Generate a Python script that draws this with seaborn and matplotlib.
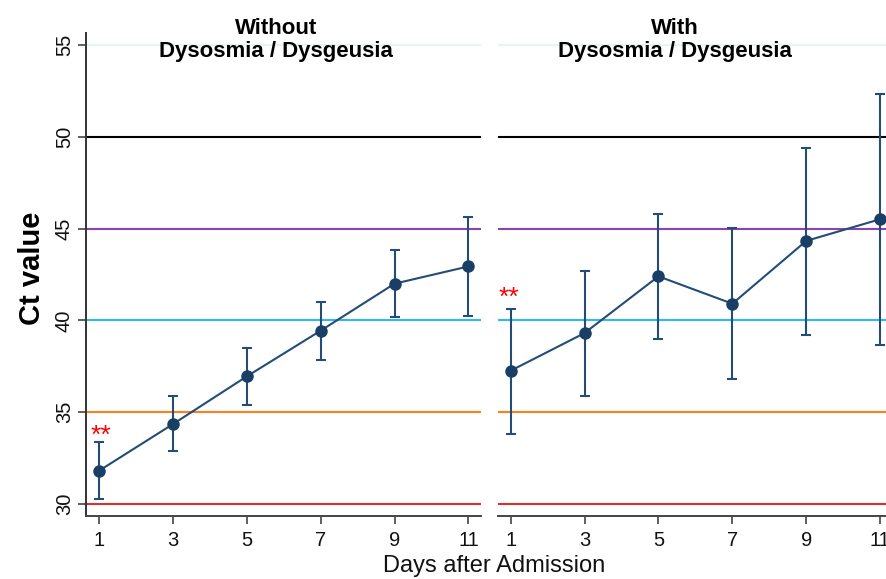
import numpy as np
import pandas as pd
import matplotlib
matplotlib.use("Agg")
import matplotlib.pyplot as plt
import seaborn as sns

# ---- data ----
days = [1, 3, 5, 7, 9, 11]
without_mean = [31.81, 34.35, 36.95, 39.44, 42.00, 42.94]
without_lo = [30.27, 32.87, 35.41, 37.87, 40.20, 40.26]
without_hi = [33.39, 35.90, 38.49, 41.00, 43.81, 45.63]
with_mean = [37.26, 39.31, 42.40, 40.91, 44.33, 45.51]
with_lo = [33.81, 35.91, 39.00, 36.82, 39.22, 38.64]
with_hi = [40.64, 42.71, 45.80, 45.01, 49.41, 52.35]
panel_titles = ["Without\nDysosmia / Dysgeusia", "With\nDysosmia / Dysgeusia"]
ref_levels = [30, 35, 40, 45, 50, 55]
ref_colors = ["#dc2f2f", "#ff7f1e", "#2fb9ee", "#8a44b0", "#000000", "#e6f4f4"]
yticks = [30, 35, 40, 45, 50, 55]
xticks = [1, 3, 5, 7, 9, 11]
sig_label = "**"
sig_pos = [(1.05, 33.7), (0.96, 41.25)]

sns.set_theme(style="ticks")
plt.rcParams["font.family"] = ["Liberation Sans", "DejaVu Sans"]
plt.rcParams["text.color"] = "black"

W, H = 887, 579
fig = plt.figure(figsize=(W / 100, H / 100), dpi=100)
ax_w = 395 / W
ax_b = (H - 516) / H
ax_h = (516 - 33) / H
ax1 = fig.add_axes([86 / W, ax_b, ax_w, ax_h])
ax2 = fig.add_axes([497.7 / W, ax_b, ax_w, ax_h])

line_col = "#234d77"
series = [
    (ax1, without_mean, without_lo, without_hi),
    (ax2, with_mean, with_lo, with_hi),
]

for i, (ax, m, lo, hi) in enumerate(series):
    for lev, c in zip(ref_levels, ref_colors):
        ax.axhline(lev, color=c, lw=1.5, zorder=1)
    df = pd.DataFrame({"day": days, "ct": m})
    m_arr = np.array(m)
    yerr = np.vstack([m_arr - np.array(lo), np.array(hi) - m_arr])
    ax.errorbar(days, m, yerr=yerr, fmt="none", ecolor=line_col,
                elinewidth=1.5, capsize=3.8, capthick=1.5, zorder=3)
    sns.lineplot(data=df, x="day", y="ct", ax=ax, color=line_col, lw=1.5,
                 marker="o", markersize=9, markeredgewidth=0,
                 markerfacecolor="#1a3f66", zorder=4)
    ax.set_xlim(0.65, 11.34)
    ax.set_ylim(29.35, 55.65)
    ax.set_xticks(xticks)
    ax.set_xticklabels([str(t) for t in xticks], fontsize=14.5)
    ax.set_xlabel("")
    ax.set_ylabel("")
    ax.tick_params(axis="x", length=5.8, width=1.2, color="#444444", pad=5,
                   labelcolor="#111111")
    for s in ["top", "right"]:
        ax.spines[s].set_visible(False)
    ax.spines["bottom"].set_color("#444444")
    ax.spines["bottom"].set_linewidth(1.4)
    ax.text(sig_pos[i][0], sig_pos[i][1], sig_label, color="red",
            fontsize=19, ha="center", va="center", zorder=5)

ax1.set_yticks(yticks)
ax1.set_yticklabels([str(t) for t in yticks], fontsize=14.5, rotation=90,
                    va="center")
ax1.tick_params(axis="y", length=5.8, width=1.2, color="#444444", pad=3,
                labelcolor="#111111")
ax1.spines["left"].set_color("#333333")
ax1.spines["left"].set_linewidth(1.4)

ax2.spines["left"].set_visible(False)
ax2.set_yticks(yticks)
ax2.tick_params(axis="y", left=False, labelleft=False)

# panel titles
fig.text(276 / W, 1 - 40 / H, panel_titles[0], ha="center", va="center",
         fontsize=16, fontweight="bold", linespacing=1.15, color="black")
fig.text(675 / W, 1 - 40 / H, panel_titles[1], ha="center", va="center",
         fontsize=16, fontweight="bold", linespacing=1.15, color="black")

fig.text(32 / W, 1 - 268 / H, "Ct value", rotation=90, ha="center",
         va="center", fontsize=21, fontweight="bold", color="black")
fig.text(494 / W, 1 - 566 / H, "Days after Admission", ha="center",
         va="center", fontsize=17, color="#111111")

fig.savefig("out.png", dpi=100)
